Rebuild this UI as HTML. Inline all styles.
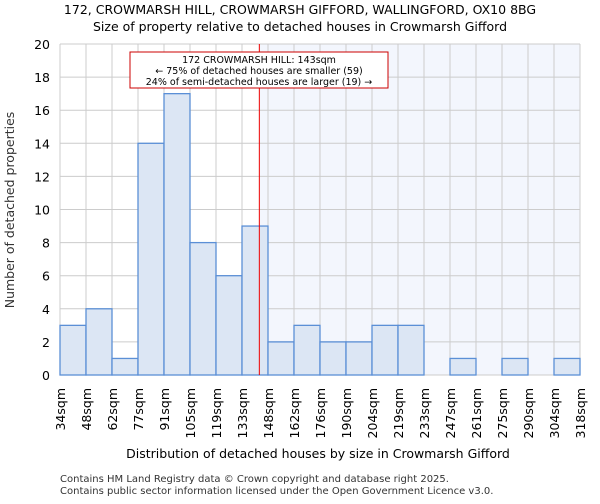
<!DOCTYPE html>
<html><head><meta charset="utf-8"><style>
body{margin:0;background:#fff;font-family:"DejaVu Sans","Liberation Sans",sans-serif}
</style></head><body>
<svg width="600" height="500" xmlns="http://www.w3.org/2000/svg" font-family="DejaVu Sans, Liberation Sans, sans-serif">
<text x="300" y="14" text-anchor="middle" font-size="12.5">172, CROWMARSH HILL, CROWMARSH GIFFORD, WALLINGFORD, OX10 8BG</text>
<text x="300" y="31" text-anchor="middle" font-size="12.5">Size of property relative to detached houses in Crowmarsh Gifford</text>
<g id="plot"></g>
<text x="318" y="458" text-anchor="middle" font-size="12.5">Distribution of detached houses by size in Crowmarsh Gifford</text>
<text transform="translate(14,210) rotate(-90)" text-anchor="middle" font-size="12.5" fill="#333">Number of detached properties</text>
<text x="60" y="482" font-size="10" fill="#333">Contains HM Land Registry data © Crown copyright and database right 2025.</text>
<text x="60" y="494" font-size="10" fill="#333">Contains public sector information licensed under the Open Government Licence v3.0.</text>
</svg>
<script>
const edges=["34sqm","48sqm","62sqm","77sqm","91sqm","105sqm","119sqm","133sqm","148sqm","162sqm","176sqm","190sqm","204sqm","219sqm","233sqm","247sqm","261sqm","275sqm","290sqm","304sqm","318sqm"];
const counts=[3,4,1,14,17,8,6,9,2,3,2,2,3,3,0,1,0,1,0,1];
const yTicks=[0,2,4,6,8,10,12,14,16,18,20];
const markerBin=7+10/15;
const L=60,R=580,T=44,B=375,yMax=20;
const bw=(R-L)/counts.length;
const x=i=>L+i*bw, y=v=>B-(v/yMax)*(B-T);
const NS="http://www.w3.org/2000/svg", g=document.getElementById('plot');
function mk(t,a,p){const e=document.createElementNS(NS,t);for(const k in a)e.setAttribute(k,a[k]);(p||g).appendChild(e);return e;}
const mx=x(markerBin);
let sh=mk('rect',{x:mx,y:T,width:R-mx,height:B-T,fill:'#f3f6fd'});


yTicks.forEach(v=>{
 let l=mk('line',{x1:L,x2:R,y1:y(v),y2:y(v),stroke:'#ccc'});
 
 
 let t=mk('text',{x:L-10,y:y(v)+5,'text-anchor':'end','font-size':'12.5'});t.textContent=v;
 
 
});
edges.forEach((s,i)=>{
 let l=mk('line',{x1:x(i),x2:x(i),y1:T,y2:B,stroke:'#ccc'});
 
 
 let t=mk('text',{transform:`translate(${x(i)+5},388) rotate(-90)`,'text-anchor':'end','font-size':'12.5'});t.textContent=s;
 
 
});
counts.forEach((c,i)=>{
 if(!c)return;
 let r=mk('rect',{x:x(i),y:y(c),width:bw,height:B-y(c),fill:'#dce6f4',stroke:'#5b8fd6','stroke-width':1.3});
 
 
});
let ml=mk('line',{x1:mx,x2:mx,y1:T,y2:B,stroke:'#e00','stroke-width':1});


let bx=mk('rect',{x:130,y:52,width:258,height:36,fill:'#fff',stroke:'#c00'});


["172 CROWMARSH HILL: 143sqm","← 75% of detached houses are smaller (59)","24% of semi-detached houses are larger (19) →"].forEach((s,i)=>{
 let t=mk('text',{x:259,y:63+i*11,'text-anchor':'middle','font-size':'9.5'});t.textContent=s;
 
 
});
</script>
</body></html>
